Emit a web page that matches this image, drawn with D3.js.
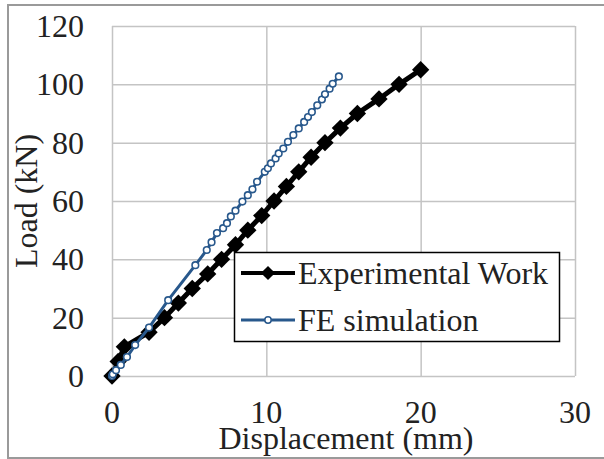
<!DOCTYPE html>
<html>
<head>
<meta charset="utf-8">
<script src="https://cdnjs.cloudflare.com/ajax/libs/d3/7.8.5/d3.min.js"></script>
<style>
  body { margin: 0; background: #fff; }
</style>
</head>
<body>
<div id="chart"></div>
<script>

// Experimental Work series (displacement mm, load kN)
var expDisp = [0, 0.4, 0.8, 2.4, 3.4, 4.3, 5.2, 6.2, 7.1, 8.0, 8.8, 9.7, 10.5, 11.3, 12.1, 12.9, 13.8, 14.8, 15.9, 17.3, 18.6, 20.0];
var expLoad = [0, 5, 10, 15, 20, 25, 30, 35, 40, 45, 50, 55, 60, 65, 70, 75, 80, 85, 90, 95, 100, 105];

// FE simulation series
var feDisp = [0, 0.05, 0.26, 0.57, 0.97, 1.5, 2.4, 3.64, 5.4, 6.14, 6.45, 6.8, 7.2, 7.45, 7.7, 8.0, 8.45, 8.8, 9.1, 9.4, 9.9, 10.1, 10.3, 10.6, 10.8, 11.1, 11.4, 11.75, 12.1, 12.45, 12.7, 12.95, 13.3, 13.6, 13.8, 14.1, 14.3, 14.7];
var feLoad = [0, 0.6, 2, 3.8, 6.5, 10.6, 16.6, 26, 38, 43.2, 45.9, 49, 50.7, 52.4, 54.7, 56.7, 59.8, 62, 64, 66.6, 70, 71.2, 72.9, 74.6, 76.3, 78, 80.3, 82.6, 84.9, 87.1, 88.8, 90.5, 92.8, 94.8, 96.6, 98.5, 100.2, 102.7];

var xTicks = [0, 10, 20, 30];
var yTicks = [0, 20, 40, 60, 80, 100, 120];

var seriesNames = ["Experimental Work", "FE simulation"];

var width = 604, height = 459;
var plot = {left: 112, right: 575, top: 26, bottom: 376};
var serif = "'Liberation Serif', 'DejaVu Serif', serif";

var svg = d3.select("#chart")
  .append("svg")
    .attr("width", width)
    .attr("height", height)
    .attr("font-family", serif)
    .style("font-family", serif);

// outer frame
svg.append("rect")
  .attr("x", 8).attr("y", 5)
  .attr("width", 620).attr("height", 453)
  .attr("fill", "none")
  .attr("stroke", "#9a9a9a")
  .attr("stroke-width", 2);

var x = d3.scaleLinear().domain([0, 30]).range([plot.left, plot.right]);
var y = d3.scaleLinear().domain([0, 120]).range([plot.bottom, plot.top]);

// gridlines
svg.append("g")
  .attr("transform", "translate(0," + plot.bottom + ")")
  .call(d3.axisBottom(x).tickValues(xTicks).tickSize(-(plot.bottom - plot.top)).tickFormat(""))
  .call(function(g) { g.select(".domain").remove(); })
  .selectAll("line").attr("stroke", "#c4c4c4").attr("stroke-width", 1.5);

svg.append("g")
  .attr("transform", "translate(" + plot.left + ",0)")
  .call(d3.axisLeft(y).tickValues(yTicks).tickSize(-(plot.right - plot.left)).tickFormat(""))
  .call(function(g) { g.select(".domain").remove(); })
  .selectAll("line").attr("stroke", "#c4c4c4").attr("stroke-width", 1.5);

function label(sel) {
  return sel.style("font-family", serif).style("font-size", "32px").attr("fill", "#222");
}

// tick labels
svg.append("g").selectAll("text")
  .data(yTicks)
  .enter().append("text")
    .attr("x", 84)
    .attr("y", function(d) { return y(d); })
    .attr("dy", "0.34em")
    .attr("text-anchor", "end")
    .call(label)
    .text(function(d) { return d; });

svg.append("g").selectAll("text")
  .data(xTicks)
  .enter().append("text")
    .attr("x", function(d) { return x(d); })
    .attr("y", 423)
    .attr("text-anchor", "middle")
    .call(label)
    .text(function(d) { return d; });

// axis titles
svg.append("text")
  .attr("x", 346)
  .attr("y", 449)
  .attr("text-anchor", "middle")
  .call(label)
  .text("Displacement (mm)");

svg.append("text")
  .attr("transform", "translate(37," + ((plot.top + plot.bottom) / 2) + ") rotate(-90)")
  .attr("text-anchor", "middle")
  .call(label)
  .text("Load (kN)");

var expData = expDisp.map(function(d, i) { return [d, expLoad[i]]; });
var feData = feDisp.map(function(d, i) { return [d, feLoad[i]]; });

var line = d3.line()
  .x(function(d) { return x(d[0]); })
  .y(function(d) { return y(d[1]); });

var diamond = d3.symbol().type(d3.symbolSquare).size(150);
var blue = "#28588c";

// experimental series
svg.append("path")
  .datum(expData)
  .attr("fill", "none")
  .attr("stroke", "#000")
  .attr("stroke-width", 5)
  .attr("d", line);

svg.append("g").selectAll("path")
  .data(expData)
  .enter().append("path")
    .attr("d", diamond)
    .attr("fill", "#000")
    .attr("transform", function(d) { return "translate(" + x(d[0]) + "," + y(d[1]) + ") rotate(45)"; });

// FE series
svg.append("path")
  .datum(feData)
  .attr("fill", "none")
  .attr("stroke", blue)
  .attr("stroke-width", 3)
  .attr("d", line);

svg.append("g").selectAll("circle")
  .data(feData)
  .enter().append("circle")
    .attr("cx", function(d) { return x(d[0]); })
    .attr("cy", function(d) { return y(d[1]); })
    .attr("r", 3.3)
    .attr("fill", "#fff")
    .attr("stroke", blue)
    .attr("stroke-width", 1.6);

// legend
var legend = svg.append("g");
legend.append("rect")
  .attr("x", 234.5).attr("y", 252.5)
  .attr("width", 325).attr("height", 89)
  .attr("fill", "#fff")
  .attr("stroke", "#000")
  .attr("stroke-width", 1.5);

var legY = [273, 320];

legend.append("line")
  .attr("x1", 241).attr("x2", 295)
  .attr("y1", legY[0]).attr("y2", legY[0])
  .attr("stroke", "#000").attr("stroke-width", 4);
legend.append("path")
  .attr("d", d3.symbol().type(d3.symbolSquare).size(100))
  .attr("fill", "#000")
  .attr("transform", "translate(268," + legY[0] + ") rotate(45)");

legend.append("line")
  .attr("x1", 241).attr("x2", 295)
  .attr("y1", legY[1]).attr("y2", legY[1])
  .attr("stroke", blue).attr("stroke-width", 3);
legend.append("circle")
  .attr("cx", 268).attr("cy", legY[1]).attr("r", 3.2)
  .attr("fill", "#fff").attr("stroke", blue).attr("stroke-width", 1.5);

legend.selectAll("text.lab")
  .data(seriesNames)
  .enter().append("text")
    .attr("class", "lab")
    .attr("x", 298)
    .attr("y", function(d, i) { return legY[i] + 11; })
    .call(label)
    .text(function(d) { return d; });

</script>
</body>
</html>
